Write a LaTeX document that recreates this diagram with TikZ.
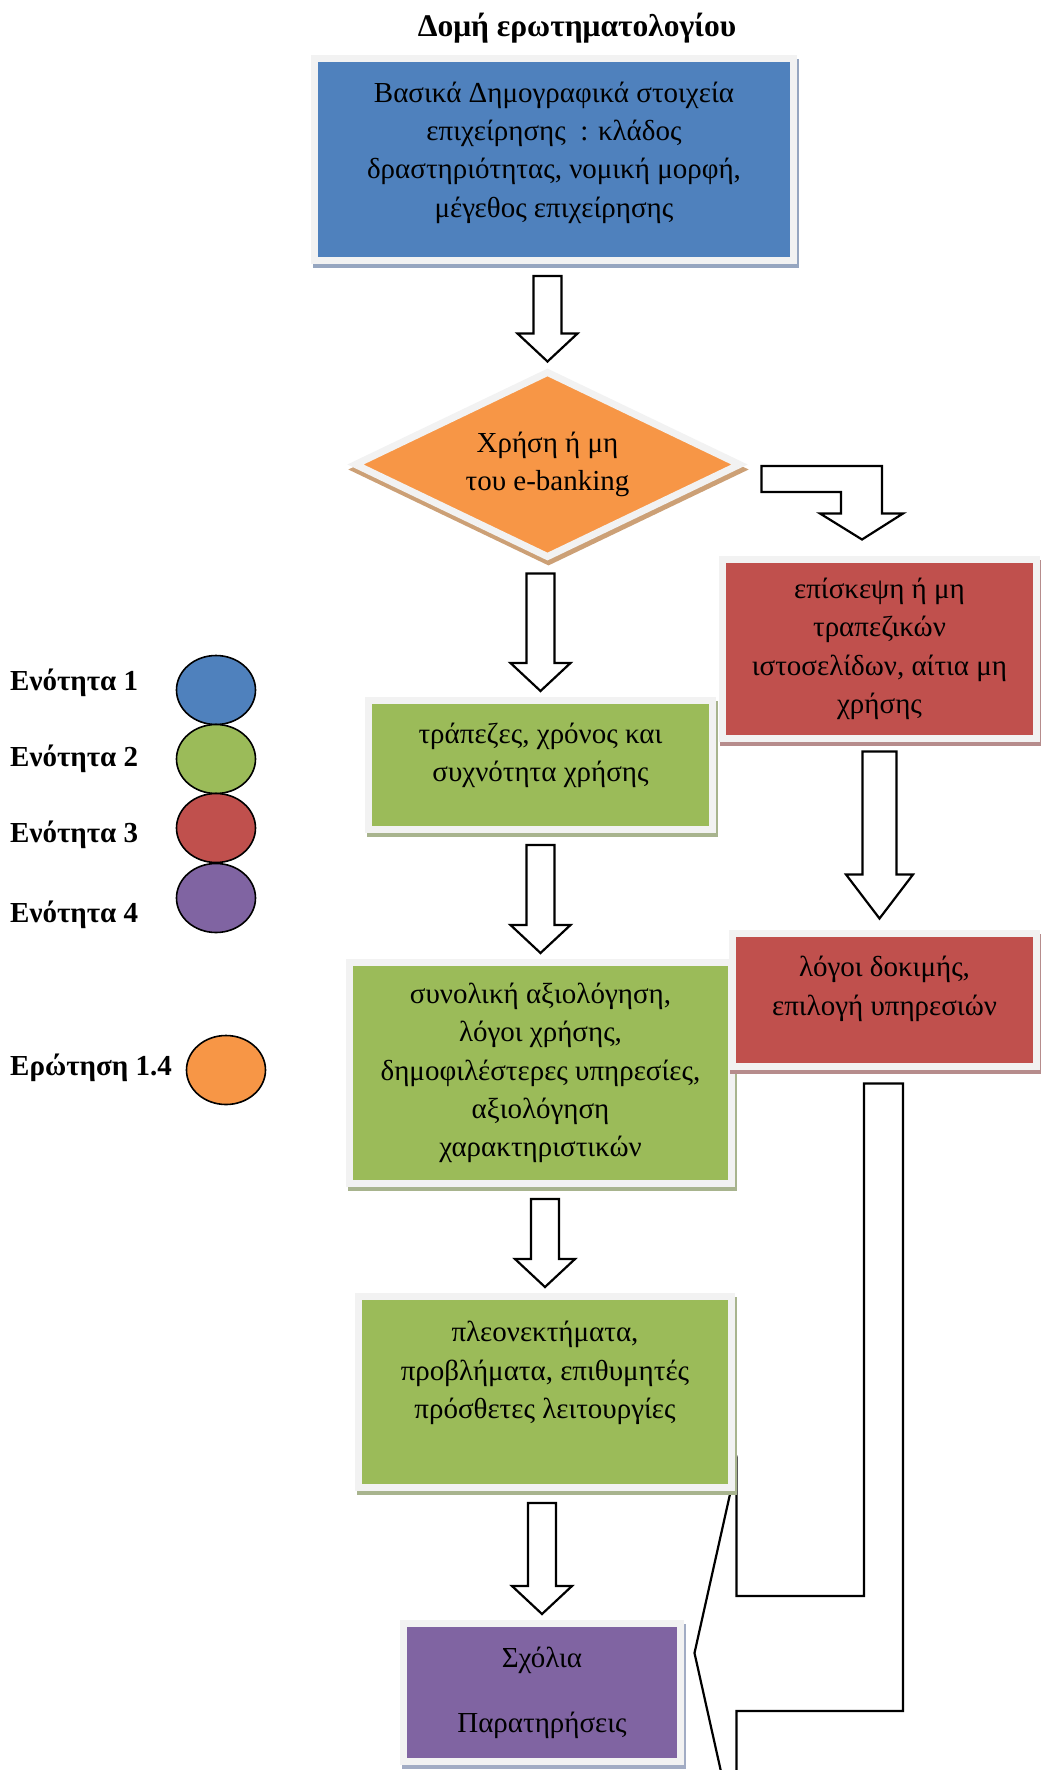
\documentclass[tikz,border=0pt]{standalone}
\usepackage{fontspec}
\setmainfont{Liberation Serif}
\usetikzlibrary{shapes.geometric, calc, backgrounds}
\definecolor{c1}{RGB}{79,129,189}
\definecolor{c2}{RGB}{155,187,89}
\definecolor{c3}{RGB}{192,80,77}
\definecolor{c4}{RGB}{128,100,162}
\definecolor{c5}{RGB}{247,150,70}
\definecolor{frame}{RGB}{242,242,242}
\definecolor{c1s}{RGB}{150,166,192}
\definecolor{c2s}{RGB}{168,180,142}
\definecolor{c3s}{RGB}{182,140,140}
\definecolor{c4s}{RGB}{162,172,196}
\definecolor{c5s}{RGB}{204,160,118}
\tikzstyle{every node}=[font=\fontsize{29}{38.3}\selectfont]
\tikzstyle{box} = [rectangle, draw=frame, line width=7pt, align=center, inner sep=0pt]
\tikzstyle{bluebox} = [box, fill=c1, preaction={draw=c1s, line width=7pt, transform canvas={shift={(2pt,-4pt)}}}]
\tikzstyle{greenbox} = [box, fill=c2, preaction={draw=c2s, line width=7pt, transform canvas={shift={(2pt,-4pt)}}}]
\tikzstyle{redbox} = [box, fill=c3, preaction={draw=c3s, line width=7pt, transform canvas={shift={(1pt,-4pt)}}}]
\tikzstyle{purplebox} = [box, fill=c4, preaction={draw=c4s, line width=7pt, transform canvas={shift={(2pt,-4pt)}}}]
\tikzstyle{decision} = [diamond, aspect=2, fill=c5, draw=frame, line width=7pt, inner sep=0pt, align=center, preaction={draw=c5s, line width=7pt, transform canvas={shift={(1pt,-5pt)}}}]
\tikzstyle{fatarrow} = [draw=black, fill=white, line width=2.2pt, line join=miter]
\tikzstyle{dot} = [ellipse, draw=black, line width=1.6pt, minimum width=79pt, minimum height=69pt, inner sep=0pt]
\tikzstyle{legend} = [anchor=west, inner sep=0pt, font=\fontsize{29}{38.3}\selectfont\bfseries]

% white block arrow straight down, from one node to the next
\newcommand{\fatdown}[2]{%
  \draw[fatarrow] ($(#2.north |- #1.south)+(-14,12)$) -- ($(#2.north |- #1.south)+(14,12)$)
    -- ($(#2.north)+(14,-34)$) -- ($(#2.north)+(30,-34)$) -- ($(#2.north)+(0,-6)$)
    -- ($(#2.north)+(-30,-34)$) -- ($(#2.north)+(-14,-34)$) -- cycle;}

\begin{document}
\begin{tikzpicture}[x=1pt, y=-1pt]
  \useasboundingbox (0,0) rectangle (1041,1770);

  \node (title) at (577,28) {\fontsize{31.5}{38.3}\selectfont\bfseries Δομή ερωτηματολογίου};

  % main column
  \node (basic) [bluebox, minimum width=479pt, minimum height=202pt] at (554,159.5)
    {Βασικά Δημογραφικά στοιχεία\\επιχείρησης \ : κλάδος\\δραστηριότητας, νομική μορφή,\\μέγεθος επιχείρησης\\[-18pt]\mbox{}};
  \node (use) [decision, minimum width=387pt, minimum height=187pt] at (547.5,464.5)
    {Χρήση ή μη\\του e-banking};
  \node (banks) [greenbox, minimum width=344pt, minimum height=129pt] at (540.5,765)
    {τράπεζες, χρόνος και\\συχνότητα χρήσης\\[-13pt]\mbox{}};
  \node (eval) [greenbox, minimum width=382pt, minimum height=221pt] at (540.5,1073)
    {συνολική αξιολόγηση,\\λόγοι χρήσης,\\δημοφιλέστερες υπηρεσίες,\\αξιολόγηση\\χαρακτηριστικών};
  \node (pros) [greenbox, minimum width=373pt, minimum height=191pt] at (545,1392)
    {πλεονεκτήματα,\\προβλήματα, επιθυμητές\\πρόσθετες λειτουργίες\\[6pt]\mbox{}};
  \node (notes) [purplebox, minimum width=277pt, minimum height=138pt] at (542,1692.5)
    {Σχόλια\\[26.7pt]Παρατηρήσεις};

  % right column
  \node (visit) [redbox, minimum width=314pt, minimum height=179pt] at (879.5,649)
    {επίσκεψη ή μη\\τραπεζικών\\ιστοσελίδων, αίτια μη\\χρήσης};
  \node (trial) [redbox, minimum width=304pt, minimum height=133pt] at (884.5,1000)
    {λόγοι δοκιμής,\\επιλογή υπηρεσιών\\[-10pt]\mbox{}};

  % legend
  \node (leg1) [legend] at (10,683) {Ενότητα 1};
  \node (leg2) [legend] at (10,759) {Ενότητα 2};
  \node (leg3) [legend] at (10,835) {Ενότητα 3};
  \node (leg4) [legend] at (10,915) {Ενότητα 4};
  \node (legq) [legend] at (10,1068) {Ερώτηση 1.4};
  \node (dot1) [dot, fill=c1] at (216,690) {};
  \node (dot2) [dot, fill=c2] at (216,759) {};
  \node (dot3) [dot, fill=c3] at (216,828) {};
  \node (dot4) [dot, fill=c4] at (216,898) {};
  \node (dotq) [dot, fill=c5] at (226,1070) {};

  \coordinate (bs) at ($(use.east)+(17,1.5)$);
  \coordinate (bt) at ($(visit.north)+(-17.5,-16.5)$);

  \begin{scope}[on background layer]
    \fatdown{basic}{use}
    \fatdown{use}{banks}
    \fatdown{banks}{eval}
    \fatdown{eval}{pros}
    \fatdown{pros}{notes}
    % bent arrow to the right column
    \draw[fatarrow] (bs) -- ($(bt |- bs)+(20,0)$) -- ($(bt)+(20,-26)$) -- ($(bt)+(41,-26)$) -- (bt)
      -- ($(bt)+(-42,-26)$) -- ($(bt)+(-21,-26)$) -- ($(bt |- bs)+(-21,26)$) -- ($(bs)+(0,26)$) -- cycle;
    \draw[fatarrow] ($(visit.south)+(-17,9.5)$) -- ($(visit.south)+(17,9.5)$)
      -- ($(visit.south |- trial.north)+(17,-55.5)$) -- ($(visit.south |- trial.north)+(33.5,-55.5)$)
      -- ($(visit.south |- trial.north)+(0,-11.5)$) -- ($(visit.south |- trial.north)+(-33.5,-55.5)$)
      -- ($(visit.south |- trial.north)+(-17,-55.5)$) -- cycle;
    % long arrow back to the comments
    \draw[fatarrow] ($(trial.south)+(-20.5,13.5)$) -- ($(trial.south)+(18.5,13.5)$)
      -- ($(trial.south |- notes.east)+(18.5,18.5)$) -- ($(notes.east)+(52.5,18.5)$)
      -- ($(notes.east)+(52.5,148.5)$) -- ($(notes.east)+(10.5,-39.5)$) -- ($(notes.east)+(52.5,-227.5)$)
      -- ($(notes.east)+(52.5,-96.5)$) -- ($(trial.south |- notes.east)+(-20.5,-96.5)$) -- cycle;
  \end{scope}
\end{tikzpicture}
\end{document}
